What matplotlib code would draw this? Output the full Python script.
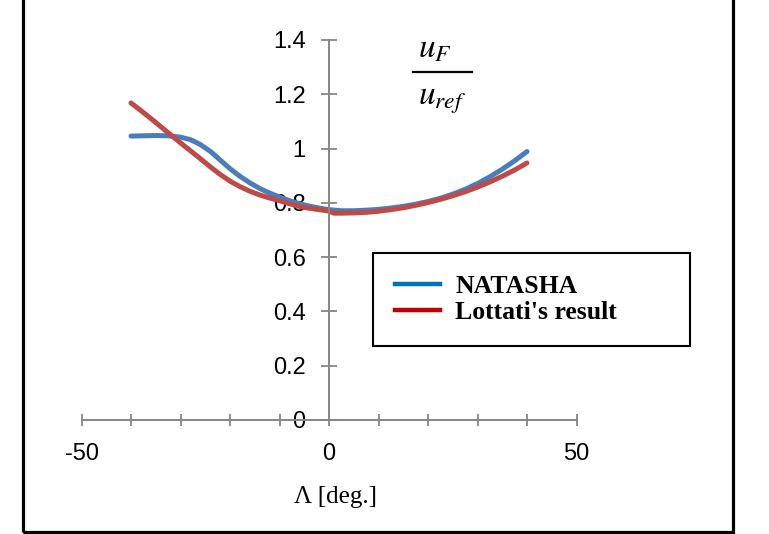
import numpy as np
import matplotlib
matplotlib.use('Agg')
import matplotlib.pyplot as plt
from matplotlib.lines import Line2D
from matplotlib.patches import Rectangle

# Sweep angle [deg] and velocity ratio u_F / u_ref
natasha_lam = [-40, -37.5, -35, -32.5, -30, -28, -26, -24, -22, -20, -18, -16,
               -14, -12, -10, -8, -6, -4, -2, 0, 2.5, 5, 7.5, 10, 12.5, 15,
               17.5, 20, 22.5, 25, 27.5, 30, 32.5, 35, 37.5, 40]
natasha_u = [1.046, 1.047, 1.048, 1.047, 1.042, 1.033, 1.015, 0.990, 0.958,
             0.926, 0.898, 0.874, 0.853, 0.836, 0.822, 0.808, 0.797, 0.788,
             0.781, 0.775, 0.771, 0.771, 0.773, 0.776, 0.781, 0.787, 0.795,
             0.805, 0.817, 0.832, 0.850, 0.871, 0.896, 0.924, 0.955, 0.989]

lottati_lam = [-40, -38, -36, -34, -32, -30, -28, -26, -24, -22, -20, -18,
               -16, -14, -12, -10, -8, -6, -4, -2, 0, 1, 2.5, 5, 7.5, 10,
               12.5, 15, 17.5, 20, 22.5, 25, 27.5, 30, 32.5, 35, 37.5, 40]
lottati_u = [1.168, 1.140, 1.111, 1.081, 1.051, 1.021, 0.992, 0.963, 0.933,
             0.905, 0.880, 0.860, 0.843, 0.829, 0.818, 0.808, 0.797, 0.787,
             0.780, 0.775, 0.770, 0.762, 0.762, 0.763, 0.765, 0.769, 0.775,
             0.782, 0.791, 0.801, 0.813, 0.826, 0.841, 0.858, 0.877, 0.898,
             0.921, 0.947]

W, H = 769, 534


def fx(px):
    return px / W


def fy(py):
    return 1 - py / H


plt.rcParams['axes.unicode_minus'] = False
plt.rcParams['mathtext.fontset'] = 'stix'

fig = plt.figure(figsize=(W / 100, H / 100), dpi=100)
ax = fig.add_axes([fx(81.5), fy(420), fx(576.5) - fx(81.5), fy(40) - fy(420)])

ax.plot(natasha_lam, natasha_u, color='#4a7ebb', lw=3.6,
        solid_capstyle='round', solid_joinstyle='round', clip_on=False)
ax.plot(lottati_lam, lottati_u, color='#be4b48', lw=3.6,
        solid_capstyle='round', solid_joinstyle='round', clip_on=False)

ax.set_xlim(-50, 50)
ax.set_ylim(0, 1.4)

# axes crossing at the origin, Excel style
for s in ['top', 'right']:
    ax.spines[s].set_visible(False)
for s in ['left', 'bottom']:
    ax.spines[s].set_position(('data', 0))
    ax.spines[s].set_color('#868686')
    ax.spines[s].set_linewidth(1.4)
ax.set_axisbelow(True)
ax.patch.set_visible(False)

ax.set_xticks([-50, 0, 50])
ax.set_xticks(np.arange(-50, 51, 10), minor=True)
ax.set_yticks(np.arange(0, 1.41, 0.2))
ax.set_yticklabels(['0', '0.2', '0.4', '0.6', '0.8', '1', '1.2', '1.4'])
ax.tick_params(axis='x', which='both', direction='inout', length=9,
               width=1.3, color='#868686', pad=12)
ax.tick_params(axis='y', direction='inout', length=11.5, width=1.3,
               color='#868686', pad=11)
for lab in ax.get_xticklabels() + ax.get_yticklabels():
    lab.set_fontfamily('Liberation Sans')
    lab.set_fontsize(17)

# axis titles
fig.text(fx(335), fy(497), 'Λ [deg.]', family='Liberation Serif', fontsize=18,
         ha='center', va='center')
fig.text(fx(435), fy(57), r'$u_F$', fontsize=24, ha='center', va='baseline')
fig.text(fx(442), fy(105), r'$u_{ref}$', fontsize=24, ha='center',
         va='baseline')
fig.add_artist(Line2D([fx(413), fx(472)], [fy(72), fy(72)], color='black',
                      lw=1.6))

# legend
handles = [Line2D([], [], color='#0070c0', lw=3.2),
           Line2D([], [], color='#c00000', lw=3.2)]
leg = fig.legend(handles, ['NATASHA', "Lottati's result"], loc='upper left',
                 bbox_to_anchor=(fx(373), fy(349), fx(690) - fx(373),
                                 fy(253) - fy(349)),
                 mode='expand', borderaxespad=0, fancybox=False,
                 frameon=True, edgecolor='black', framealpha=1,
                 handlelength=1.75, handletextpad=0.6, borderpad=0.85,
                 labelspacing=0.12,
                 prop={'family': 'Liberation Serif', 'weight': 'bold',
                       'size': 18.5})
leg.get_frame().set_linewidth(1.5)

# outer frame around the chart area
fig.add_artist(Rectangle((fx(22.5), fy(532)), fx(733) - fx(22.5),
                         fy(-10) - fy(532), fill=False, edgecolor='black',
                         lw=2.3, clip_on=False))

fig.savefig('out.png', dpi=100)
